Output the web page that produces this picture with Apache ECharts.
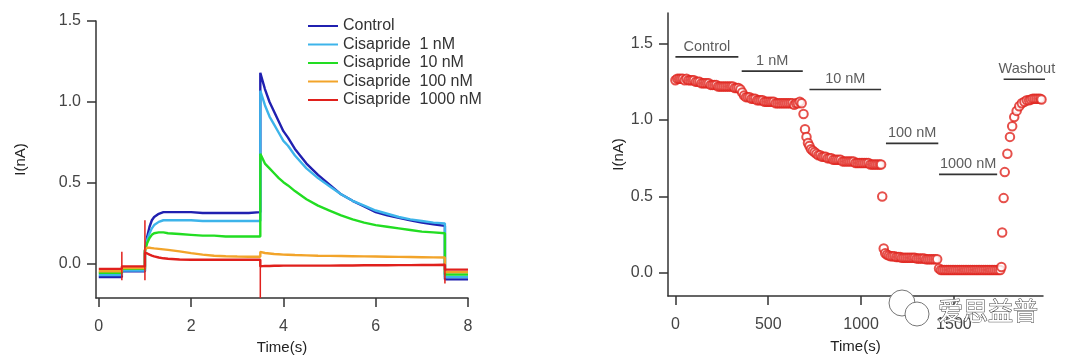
<!DOCTYPE html>
<html><head><meta charset="utf-8">
<script src="https://cdn.jsdelivr.net/npm/echarts@6/dist/echarts.min.js"></script>
<style>html,body{margin:0;padding:0;background:#fff}#c{width:1080px;height:360px}</style>
</head><body><div id="c"></div>
<script>
// ---------- Left panel: current traces (time in s, current in nA) ----------
const traceNames = ['Control', 'Cisapride  1 nM', 'Cisapride  10 nM', 'Cisapride  100 nM', 'Cisapride  1000 nM'];
const traceColors = ['#2020b0', '#3db4ea', '#22dd22', '#f2a42a', '#e0201c'];
const traceTime = [0, 0.5, 0.5, 1.0, 1.0, 1.05, 1.1, 1.15, 1.2, 1.3, 1.4, 1.5, 1.75, 2.0, 2.25, 2.5, 2.75, 3.0, 3.25, 3.5,
  3.5, 3.6, 3.7, 3.8, 3.9, 4.0, 4.1, 4.25, 4.5, 4.75, 5.0, 5.25, 5.5, 5.75, 6.0, 6.25, 6.5, 6.75, 7.0, 7.25, 7.5, 7.5, 8.0];
const iControl = [-0.08, -0.08, -0.045, -0.045, 0.08, 0.17, 0.23, 0.27, 0.29, 0.31, 0.32, 0.32, 0.32, 0.32, 0.315, 0.315, 0.315, 0.315, 0.315, 0.32,
  1.18, 1.08, 1.00, 0.94, 0.88, 0.82, 0.78, 0.71, 0.62, 0.55, 0.49, 0.43, 0.39, 0.355, 0.32, 0.30, 0.285, 0.27, 0.255, 0.245, 0.235, -0.095, -0.095];
const i1nM = [-0.068, -0.068, -0.04, -0.04, 0.08, 0.15, 0.19, 0.22, 0.24, 0.26, 0.27, 0.27, 0.27, 0.27, 0.265, 0.265, 0.265, 0.265, 0.265, 0.265,
  1.07, 0.98, 0.91, 0.86, 0.81, 0.76, 0.73, 0.67, 0.59, 0.53, 0.48, 0.43, 0.39, 0.36, 0.33, 0.31, 0.29, 0.275, 0.265, 0.255, 0.25, -0.08, -0.08];
const i10nM = [-0.055, -0.055, -0.03, -0.03, 0.08, 0.13, 0.16, 0.18, 0.19, 0.195, 0.195, 0.19, 0.185, 0.18, 0.175, 0.175, 0.17, 0.17, 0.17, 0.17,
  0.68, 0.62, 0.59, 0.56, 0.53, 0.505, 0.485, 0.45, 0.40, 0.36, 0.33, 0.30, 0.275, 0.255, 0.24, 0.23, 0.22, 0.21, 0.20, 0.195, 0.19, -0.065, -0.065];
const i100nM = [-0.045, -0.045, -0.025, -0.025, 0.09, 0.10, 0.10, 0.098, 0.096, 0.093, 0.09, 0.087, 0.078, 0.067, 0.058, 0.051, 0.048, 0.046, 0.045, 0.045,
  0.075, 0.068, 0.065, 0.062, 0.06, 0.058, 0.057, 0.055, 0.053, 0.051, 0.05, 0.049, 0.048, 0.047, 0.046, 0.045, 0.044, 0.043, 0.042, 0.041, 0.04, -0.05, -0.05];
const i1000nM = [-0.03, -0.03, -0.015, -0.015, 0.07, 0.065, 0.058, 0.052, 0.047, 0.04, 0.035, 0.032, 0.028, 0.026, 0.026, 0.026, 0.026, 0.026, 0.026, 0.026,
  -0.015, -0.012, -0.012, -0.011, -0.011, -0.01, -0.01, -0.01, -0.01, -0.01, -0.01, -0.009, -0.009, -0.008, -0.008, -0.008, -0.007, -0.007, -0.006, -0.006, -0.005, -0.035, -0.035];
const traceCurrents = [iControl, i1nM, i10nM, i100nM, i1000nM];
// capacitive spikes at voltage steps
const spikeTime = [0.5, 1.0, 3.5, 7.5];
const spikeLow = [-0.1, -0.1, -0.21, -0.12];
const spikeHigh = [0.075, 0.27, 0.03, -0.03];
const leftXTicks = [0, 2, 4, 6, 8];
const leftYTicks = [0, 0.5, 1.0, 1.5];

// ---------- Right panel: peak tail current vs experiment time ----------
const recording = [
  [0,1.26],[10,1.27],[20,1.27],[30,1.27],[40,1.27],[50,1.26],[60,1.27],[70,1.26],[80,1.26],[90,1.26],
  [100,1.26],[110,1.25],[120,1.25],[130,1.25],[140,1.24],[150,1.24],[160,1.24],[170,1.24],[180,1.24],[190,1.23],
  [200,1.23],[210,1.23],[220,1.23],[230,1.22],[240,1.22],[250,1.22],[260,1.22],[270,1.22],[280,1.22],[290,1.22],
  [300,1.22],[310,1.22],[320,1.21],[330,1.21],[340,1.21],[350,1.20],[360,1.18],[370,1.16],[380,1.15],[390,1.15],
  [400,1.15],[410,1.14],[420,1.14],[430,1.14],[440,1.13],[450,1.13],[460,1.13],[470,1.13],[480,1.12],[490,1.12],
  [500,1.12],[510,1.12],[520,1.12],[530,1.12],[540,1.11],[550,1.11],[560,1.11],[570,1.11],[580,1.11],[590,1.11],
  [600,1.11],[610,1.11],[620,1.11],[630,1.11],[640,1.10],[650,1.11],[660,1.11],[670,1.12],[680,1.11],
  [690,1.04],[698,0.94],[706,0.89],[714,0.85],[722,0.83],[730,0.81],[740,0.80],[750,0.79],[760,0.78],[770,0.77],
  [780,0.77],[790,0.76],[800,0.76],[810,0.76],[820,0.75],[830,0.75],[840,0.75],[850,0.74],[860,0.74],[870,0.74],
  [880,0.74],[890,0.74],[900,0.73],[910,0.73],[920,0.73],[930,0.73],[940,0.73],[950,0.73],[960,0.73],[970,0.72],
  [980,0.72],[990,0.72],[1000,0.72],[1010,0.72],[1020,0.72],[1030,0.72],[1040,0.72],[1050,0.71],[1060,0.71],[1070,0.71],
  [1080,0.71],[1090,0.71],[1100,0.71],[1108,0.71],
  [1114,0.50],[1122,0.16],[1130,0.13],[1140,0.12],[1150,0.115],[1160,0.11],[1170,0.11],[1180,0.11],[1190,0.105],[1200,0.105],
  [1210,0.105],[1220,0.10],[1230,0.10],[1240,0.10],[1250,0.10],[1260,0.10],[1270,0.10],[1280,0.10],[1290,0.10],[1300,0.095],
  [1310,0.095],[1320,0.095],[1330,0.095],[1340,0.095],[1350,0.09],[1360,0.09],[1370,0.09],[1380,0.09],[1390,0.09],[1400,0.09],
  [1410,0.09],
  [1420,0.03],[1430,0.02],[1440,0.02],[1450,0.02],[1460,0.02],[1470,0.02],[1480,0.02],[1490,0.02],[1500,0.02],[1510,0.02],
  [1520,0.02],[1530,0.02],[1540,0.02],[1550,0.02],[1560,0.02],[1570,0.02],[1580,0.02],[1590,0.02],[1600,0.02],[1610,0.02],
  [1620,0.02],[1630,0.02],[1640,0.02],[1650,0.02],[1660,0.02],[1670,0.02],[1680,0.02],[1690,0.02],[1700,0.02],[1710,0.02],
  [1720,0.02],[1730,0.02],[1740,0.02],[1750,0.02],[1756,0.04],
  [1760,0.265],[1768,0.49],[1774,0.66],[1788,0.78],[1802,0.89],[1814,0.96],[1825,1.02],[1838,1.06],[1852,1.09],[1866,1.11],
  [1880,1.12],[1893,1.13],[1905,1.13],[1915,1.135],[1925,1.14],[1935,1.14],[1945,1.14],[1955,1.14],[1965,1.14],[1972,1.135]
];
const barLabels = ['Control', '1 nM', '10 nM', '100 nM', '1000 nM', 'Washout'];
const barStart = [0, 357, 722, 1134, 1420, 1768];
const barEnd = [339, 686, 1108, 1416, 1733, 2018];
const barLevel = [1.413, 1.32, 1.20, 0.848, 0.645, 1.267];
const rightXTicks = [0, 500, 1000, 1500];
const rightYTicks = [0, 0.5, 1.0, 1.5];

const FONT = 'Liberation Sans, Arial, sans-serif';
const AX = '#333';
function axisCommon(ticks, fmt, margin) {
  return {
    axisLine: { show: true, onZero: false, lineStyle: { color: AX, width: 1.5 } },
    axisTick: { show: true, inside: false, length: 9, customValues: ticks, lineStyle: { color: AX, width: 1.5 } },
    axisLabel: { customValues: ticks, formatter: fmt, margin, color: '#444', fontSize: 16, fontFamily: FONT },
    splitLine: { show: false },
    nameTextStyle: { color: '#222', fontSize: 15, fontFamily: FONT }
  };
}

const series = [];
traceNames.forEach((name, k) => {
  series.push({
    name, type: 'line', xAxisIndex: 0, yAxisIndex: 0, symbol: 'none', showSymbol: false,
    color: traceColors[k], lineStyle: { width: 2.4, color: traceColors[k] },
    data: traceTime.map((t, i) => [t, traceCurrents[k][i]]), z: 2 + k
  });
});
spikeTime.forEach((t, i) => {
  series.push({
    type: 'line', xAxisIndex: 0, yAxisIndex: 0, symbol: 'none', silent: true,
    lineStyle: { width: 1.5, color: traceColors[4] },
    data: [[t, spikeLow[i]], [t, spikeHigh[i]]], z: 8
  });
});
series.push({
  type: 'scatter', xAxisIndex: 1, yAxisIndex: 1, symbol: 'emptyCircle', symbolSize: 8.5,
  itemStyle: { color: '#e0241e', borderWidth: 1.2 }, data: recording, z: 3
});
barLabels.forEach((lab, i) => {
  series.push({
    type: 'line', xAxisIndex: 1, yAxisIndex: 1, symbol: 'none', clip: false, silent: true,
    lineStyle: { width: 1.6, color: '#333' },
    data: [[barStart[i], barLevel[i]], [barEnd[i], barLevel[i]]]
  });
});
series.push({
  type: 'scatter', xAxisIndex: 1, yAxisIndex: 1, symbolSize: 1, clip: false, silent: true,
  itemStyle: { color: 'rgba(0,0,0,0)' },
  label: { show: true, position: 'top', distance: 2, color: '#333', fontSize: 14.5, fontFamily: FONT,
    formatter: p => barLabels[p.dataIndex] },
  data: barLabels.map((_, i) => [(barStart[i] + barEnd[i]) / 2, barLevel[i]])
});

const option = {
  animation: false,
  backgroundColor: '#fff',
  grid: [
    { left: 96, top: 21, width: 372, height: 279 },
    { left: 668, top: 13, width: 375, height: 283 }
  ],
  legend: {
    orient: 'vertical', left: 303, top: 13, itemWidth: 30, itemHeight: 2, itemGap: 2.5, icon: 'rect',
    textStyle: { fontSize: 16, color: '#333', fontFamily: FONT },
    data: traceNames
  },
  xAxis: [
    Object.assign(axisCommon(leftXTicks, v => String(v), 21), { type: 'value', gridIndex: 0, min: -0.06, max: 8,
      name: 'Time(s)', nameLocation: 'middle', nameGap: 42 }),
    Object.assign(axisCommon(rightXTicks, v => String(v), 21), { type: 'value', gridIndex: 1, min: -40, max: 1980,
      name: 'Time(s)', nameLocation: 'middle', nameGap: 43 })
  ],
  yAxis: [
    Object.assign(axisCommon(leftYTicks, v => v.toFixed(1), 15), { type: 'value', gridIndex: 0, min: -0.21, max: 1.5,
      name: 'I(nA)', nameLocation: 'middle', nameGap: 68 }),
    Object.assign(axisCommon(rightYTicks, v => v.toFixed(1), 15), { type: 'value', gridIndex: 1, min: -0.15, max: 1.7,
      name: 'I(nA)', nameLocation: 'middle', nameGap: 41 })
  ],
  graphic: [
    { type: 'circle', shape: { cx: 902, cy: 303, r: 13 }, style: { fill: '#fff', stroke: '#777', lineWidth: 1 }, z: 100 },
    { type: 'circle', shape: { cx: 917, cy: 314, r: 12 }, style: { fill: '#fff', stroke: '#777', lineWidth: 1 }, z: 101 },
    { type: 'text', x: 938, y: 298, z: 102,
      style: { text: '爱思益普', font: '25px "Noto Sans CJK SC"', fill: '#fff', stroke: '#444', lineWidth: 1 } }
  ],
  series
};
echarts.init(document.getElementById('c'), null, { renderer: 'canvas' }).setOption(option);
</script>
</body></html>
